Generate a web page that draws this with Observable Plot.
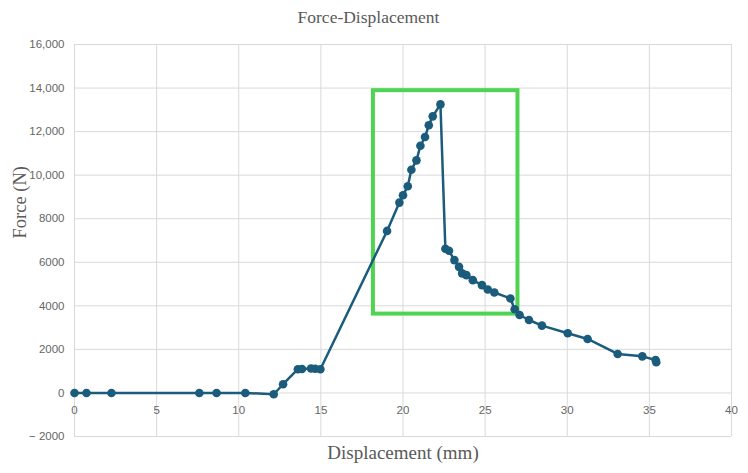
<!DOCTYPE html>
<html><head><meta charset="utf-8">
<script src="https://cdn.jsdelivr.net/npm/d3@7"></script>
<script src="https://cdn.jsdelivr.net/npm/@observablehq/plot@0.6"></script>
<style>body{margin:0;background:#fff}</style>
</head><body><div id="chart"></div>
<script>
const displacement = [0, 0.73, 2.25, 7.6, 8.65, 10.4, 12.13, 12.7, 13.6, 13.85, 14.4, 14.65, 14.97,
  19.03, 19.78, 20.0, 20.29, 20.51, 20.82, 21.06, 21.34, 21.57, 21.81, 22.28,
  22.58, 22.8, 23.13, 23.41, 23.6, 23.86, 24.25, 24.81, 25.16, 25.56, 26.54, 26.8,
  27.1, 27.67, 28.46, 30.03, 31.24, 33.07, 34.57, 35.38, 35.42];
const force = [0, 0, 0, 0, 0, 0, -60, 400, 1090, 1100, 1120, 1110, 1090,
  7440, 8740, 9080, 9490, 10250, 10680, 11350, 11750, 12290, 12700, 13250,
  6620, 6530, 6100, 5790, 5490, 5410, 5180, 4950, 4750, 4610, 4340, 3840,
  3580, 3350, 3090, 2740, 2480, 1790, 1680, 1510, 1410];
const xTicks = [0, 5, 10, 15, 20, 25, 30, 35, 40];
const yTicks = [-2000, 0, 2000, 4000, 6000, 8000, 10000, 12000, 14000, 16000];
const yTickLabels = ["\u2212 2000", "0", "2000", "4000", "6000", "8000", "10,000", "12,000", "14,000", "16,000"];
const boxX = [18.2, 27.0];
const boxY = [3620, 13880];
const titleText = "Force-Displacement";
const xLabel = "Displacement (mm)";
const yLabel = "Force (N)";

const data = displacement.map((x, i) => ({x, y: force[i]}));
const lineColor = "#1b5b7c";
const serif = "'Liberation Serif', 'Times New Roman', serif";

const chart = Plot.plot({
  width: 748, height: 473,
  marginTop: 44, marginBottom: 37, marginLeft: 74, marginRight: 17,
  x: {domain: [0, 40], axis: null},
  y: {domain: [-2000, 16000], axis: null},
  style: {fontFamily: "'Liberation Sans', Arial, sans-serif", background: "#fff", overflow: "visible"},
  marks: [
    Plot.ruleX(xTicks, {x: d => d, stroke: "#d9d9d9", strokeWidth: 1, strokeOpacity: 1}),
    Plot.ruleY(yTicks, {y: d => d, stroke: "#d9d9d9", strokeWidth: 1, strokeOpacity: 1}),
    Plot.text(yTicks, {y: d => d, frameAnchor: "left", dx: -10, textAnchor: "end", text: (d, i) => yTickLabels[i], fill: "#666", fontSize: 11.5}),
    Plot.text(xTicks, {x: d => d, y: () => 0, dy: 17, text: d => String(d), fill: "#666", fontSize: 11.5}),
    Plot.rect([0], {x1: () => boxX[0], x2: () => boxX[1], y1: () => boxY[0], y2: () => boxY[1], fill: "none", stroke: "#4fd452", strokeWidth: 4}),
    Plot.line(data, {x: "x", y: "y", stroke: lineColor, strokeWidth: 2.5}),
    Plot.dot(data, {x: "x", y: "y", r: 4.3, fill: lineColor, stroke: "none"}),
    Plot.text([titleText], {frameAnchor: "top-left", dx: 294, dy: -27, textAnchor: "middle", lineAnchor: "middle", fontFamily: serif, fontSize: 17.5, fill: "#595959"}),
    Plot.text([xLabel], {frameAnchor: "bottom", dy: 16, lineAnchor: "middle", fontFamily: serif, fontSize: 19, fill: "#595959"}),
    Plot.text([yLabel], {frameAnchor: "left", dx: -54, dy: -2, rotate: -90, lineAnchor: "middle", fontFamily: serif, fontSize: 18.5, fill: "#595959"})
  ]
});
document.getElementById("chart").append(chart);
</script>
</body></html>
